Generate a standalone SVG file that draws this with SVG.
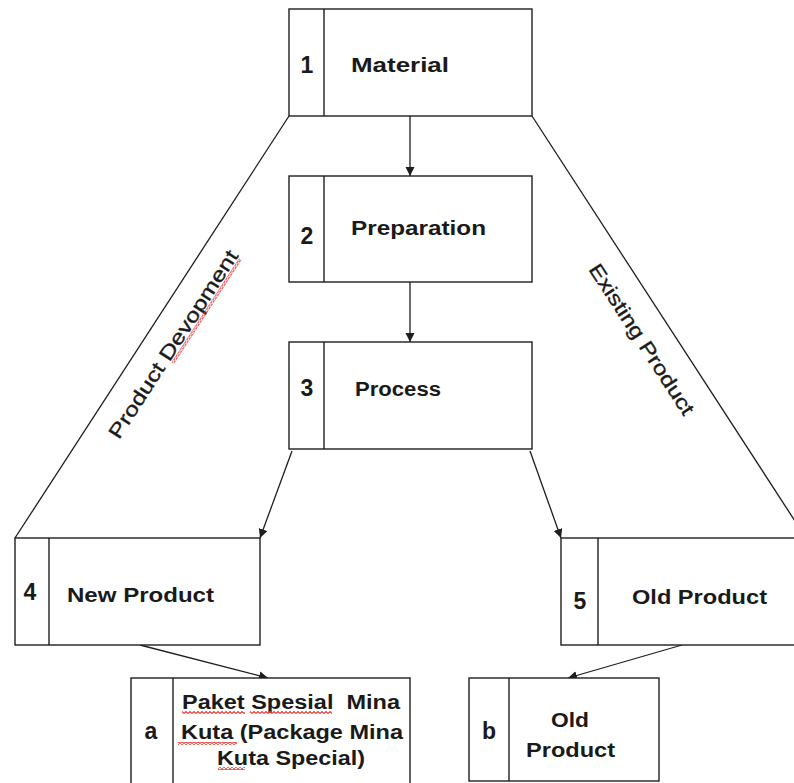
<svg xmlns="http://www.w3.org/2000/svg" width="794" height="783" viewBox="0 0 794 783">
  <defs>
    <style>
      .box { fill: #ffffff; stroke: #1e1e1e; stroke-width: 1.4; }
      .div { stroke: #1e1e1e; stroke-width: 1.4; }
      .lbl { font-family: "Liberation Sans", Arial, sans-serif; font-weight: bold; font-size: 20px; fill: #1a1a1a; }
      .num { font-family: "Liberation Sans", Arial, sans-serif; font-weight: bold; font-size: 23px; fill: #1a1a1a; text-anchor: middle; }
      .side { font-family: "Liberation Sans", Arial, sans-serif; font-size: 20px; fill: #1a1a1a; stroke: #1a1a1a; stroke-width: 0.35; text-anchor: middle; }
      .edge { fill: none; stroke: #1e1e1e; stroke-width: 1.3; }
      .arrow { marker-end: url(#head); }
    </style>
    <marker id="head" markerUnits="userSpaceOnUse" markerWidth="10" markerHeight="10" refX="9" refY="4.5" orient="auto">
      <path d="M0,0 L9,4.5 L0,9 z" fill="#1e1e1e"/>
    </marker>
    <!-- red wavy spell-check underline -->
    <pattern id="squiggle" width="4" height="3" patternUnits="userSpaceOnUse">
      <polyline points="0,2.5 2,0.5 4,2.5" fill="none" stroke="#e53935" stroke-width="1.1"/>
    </pattern>
  </defs>

  <!-- connectors -->
  <g id="connectors">
    <line class="edge" x1="289" y1="116" x2="15" y2="538"/>
    <line class="edge" x1="532" y1="116" x2="806" y2="538"/>
    <line class="edge arrow" x1="410" y1="116" x2="410" y2="176"/>
    <line class="edge arrow" x1="410" y1="282" x2="410" y2="342"/>
    <line class="edge arrow" x1="292" y1="451" x2="260" y2="538"/>
    <line class="edge arrow" x1="530" y1="451" x2="561" y2="538"/>
    <line class="edge arrow" x1="140" y1="645" x2="268" y2="678"/>
    <line class="edge arrow" x1="682" y1="645" x2="568" y2="678"/>
  </g>

  <!-- side labels -->
  <g id="label-product-development" transform="translate(179,348) rotate(-57)">
    <text class="side" x="0" y="0" textLength="220" lengthAdjust="spacingAndGlyphs">Product Devopment</text>
    <rect x="-16" y="1.5" width="124" height="3" fill="url(#squiggle)"/>
  </g>
  <g id="label-existing-product" transform="translate(636,343) rotate(57)">
    <text class="side" x="0" y="0" textLength="176" lengthAdjust="spacingAndGlyphs">Existing Product</text>
  </g>

  <!-- node 1 -->
  <g id="node-1">
    <rect class="box" x="289" y="9" width="243" height="107"/>
    <line class="div" x1="324" y1="9" x2="324" y2="116"/>
    <text class="num" x="307" y="73">1</text>
    <text class="lbl" x="351" y="72" textLength="98" lengthAdjust="spacingAndGlyphs">Material</text>
  </g>

  <!-- node 2 -->
  <g id="node-2">
    <rect class="box" x="289" y="176" width="243" height="106"/>
    <line class="div" x1="324" y1="176" x2="324" y2="282"/>
    <text class="num" x="307" y="244">2</text>
    <text class="lbl" x="351" y="235" textLength="135" lengthAdjust="spacingAndGlyphs">Preparation</text>
  </g>

  <!-- node 3 -->
  <g id="node-3">
    <rect class="box" x="289" y="342" width="243" height="107"/>
    <line class="div" x1="324" y1="342" x2="324" y2="449"/>
    <text class="num" x="307" y="396">3</text>
    <text class="lbl" x="355" y="396" textLength="86" lengthAdjust="spacingAndGlyphs">Process</text>
  </g>

  <!-- node 4 -->
  <g id="node-4">
    <rect class="box" x="15" y="538" width="245" height="107"/>
    <line class="div" x1="49" y1="538" x2="49" y2="645"/>
    <text class="num" x="30" y="600">4</text>
    <text class="lbl" x="67" y="602" textLength="147" lengthAdjust="spacingAndGlyphs">New Product</text>
  </g>

  <!-- node 5 -->
  <g id="node-5">
    <rect class="box" x="561" y="538" width="245" height="107"/>
    <line class="div" x1="598" y1="538" x2="598" y2="645"/>
    <text class="num" x="580" y="609">5</text>
    <text class="lbl" x="632" y="604" textLength="135" lengthAdjust="spacingAndGlyphs">Old Product</text>
  </g>

  <!-- node a -->
  <g id="node-a">
    <rect class="box" x="131" y="678" width="279" height="112"/>
    <line class="div" x1="173" y1="678" x2="173" y2="790"/>
    <text class="num" x="151" y="739">a</text>
    <text class="lbl" x="182" y="709" xml:space="preserve" textLength="218" lengthAdjust="spacingAndGlyphs">Paket Spesial  Mina</text>
    <text class="lbl" x="181" y="739" textLength="222" lengthAdjust="spacingAndGlyphs">Kuta (Package Mina</text>
    <text class="lbl" x="217" y="765" textLength="148" lengthAdjust="spacingAndGlyphs">Kuta Special)</text>
    <rect x="182" y="711" width="63" height="3" fill="url(#squiggle)"/>
    <rect x="250" y="711" width="82" height="3" fill="url(#squiggle)"/>
    <rect x="178" y="742" width="59" height="3" fill="url(#squiggle)"/>
    <rect x="218" y="767" width="27" height="3" fill="url(#squiggle)"/>
  </g>

  <!-- node b -->
  <g id="node-b">
    <rect class="box" x="469" y="678" width="190" height="103"/>
    <line class="div" x1="509" y1="678" x2="509" y2="781"/>
    <text class="num" x="489" y="739">b</text>
    <text class="lbl" x="551" y="727" textLength="38" lengthAdjust="spacingAndGlyphs">Old</text>
    <text class="lbl" x="526" y="757" textLength="89" lengthAdjust="spacingAndGlyphs">Product</text>
  </g>
</svg>
